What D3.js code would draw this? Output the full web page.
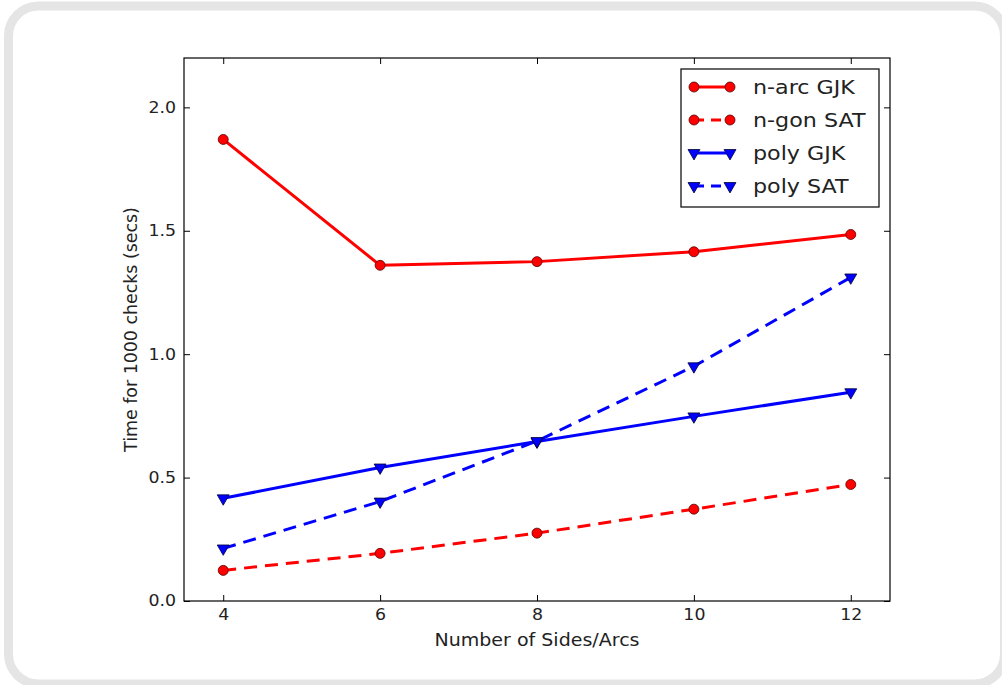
<!DOCTYPE html>
<html>
<head>
<meta charset="utf-8">
<script src="https://cdn.jsdelivr.net/npm/d3@7/dist/d3.min.js"></script>
<style>
  html, body { margin: 0; padding: 0; background: #fff; }
  svg { display: block; }
  text { font-family: "DejaVu Sans", sans-serif; fill: #222; }
  .wide { transform-box: fill-box; transform-origin: center; transform: scaleX(1.12); }
  .wideL { transform-box: fill-box; transform-origin: left center; transform: scaleX(1.14); }
</style>
</head>
<body>
<svg id="chart" width="1002" height="685"></svg>
<script>
const sides = [4, 6, 8, 10, 12];
const narcGJK = [1.87, 1.36, 1.375, 1.415, 1.485];
const ngonSAT = [0.124, 0.193, 0.275, 0.372, 0.472];
const polyGJK = [0.416, 0.541, 0.646, 0.748, 0.846];
const polySAT = [0.213, 0.403, 0.648, 0.951, 1.311];
const xTicks = [4, 6, 8, 10, 12];
const yTicks = [0.0, 0.5, 1.0, 1.5, 2.0];
const seriesNames = ["n-arc GJK", "n-gon SAT", "poly GJK", "poly SAT"];

const series = [
  { name: seriesNames[0], values: narcGJK, color: "#ff0000", dash: null, marker: "circle" },
  { name: seriesNames[1], values: ngonSAT, color: "#ff0000", dash: "13,8", marker: "circle" },
  { name: seriesNames[2], values: polyGJK, color: "#0000ff", dash: null, marker: "tri" },
  { name: seriesNames[3], values: polySAT, color: "#0000ff", dash: "13,8", marker: "tri" }
];

const svg = d3.select("#chart");

// card frame
svg.append("rect")
  .attr("x", 8.5).attr("y", 6).attr("width", 996).attr("height", 678)
  .attr("rx", 30).attr("ry", 30)
  .attr("fill", "#fff").attr("stroke", "#e5e5e5").attr("stroke-width", 9);

const L = 184, R = 890, T = 58, B = 601;
const x = d3.scaleLinear().domain([3.5, 12.5]).range([L, R]);
const y = d3.scaleLinear().domain([0, 2.2]).range([B, T]);

const g = svg.append("g");

const tickLen = 6;
const xAxisB = d3.axisBottom(x).tickValues(xTicks).tickSizeInner(-tickLen).tickSizeOuter(0).tickPadding(8).tickFormat(d3.format("d"));
const xAxisT = d3.axisTop(x).tickValues(xTicks).tickSizeInner(-tickLen).tickSizeOuter(0).tickFormat("");
const yAxisL = d3.axisLeft(y).tickValues(yTicks).tickSizeInner(-tickLen).tickSizeOuter(0).tickPadding(8).tickFormat(d3.format(".1f"));
const yAxisR = d3.axisRight(y).tickValues(yTicks).tickSizeInner(-tickLen).tickSizeOuter(0).tickFormat("");

function styleAxis(sel, anchorCls) {
  sel.select(".domain").remove();
  sel.selectAll(".tick line").attr("stroke", "#000").attr("stroke-width", 1);
  sel.selectAll(".tick text").style("font-family", "DejaVu Sans, sans-serif").style("font-size", "15.5px")
    .attr("fill", "#222").attr("class", anchorCls || "wide");
}
g.append("g").attr("transform", `translate(0,${B})`).call(xAxisB).call(styleAxis, "wide");
g.append("g").attr("transform", `translate(0,${T})`).call(xAxisT).call(styleAxis);
g.append("g").attr("transform", `translate(${L},0)`).call(yAxisL).call(sel => {
  styleAxis(sel, null);
  sel.selectAll(".tick text").attr("class", null)
    .style("transform-box", "fill-box").style("transform-origin", "right center").style("transform", "scaleX(1.12)");
});
g.append("g").attr("transform", `translate(${R},0)`).call(yAxisR).call(styleAxis);

const line = d3.line().x((d, i) => x(sides[i])).y(d => y(d));
svg.append("clipPath").attr("id", "clip").append("rect")
  .attr("x", L).attr("y", T).attr("width", R - L).attr("height", B - T);

const plot = g.append("g").attr("clip-path", "url(#clip)");
const triPath = d3.symbol().type(d3.symbolTriangle).size(62);

function drawMarker(sel, s, cx, cy) {
  if (s.marker === "circle") {
    sel.append("circle").attr("cx", cx).attr("cy", cy).attr("r", 5)
      .attr("fill", s.color).attr("stroke", "#550000").attr("stroke-width", 0.8);
  } else {
    sel.append("path").attr("d", triPath())
      .attr("transform", `translate(${cx},${cy}) rotate(180)`)
      .attr("fill", s.color).attr("stroke", "#000033").attr("stroke-width", 0.8);
  }
}

series.forEach(s => {
  plot.append("path").datum(s.values)
    .attr("d", line)
    .attr("fill", "none")
    .attr("stroke", s.color)
    .attr("stroke-width", 3)
    .attr("stroke-dasharray", s.dash)
    .attr("stroke-linejoin", "round");
});
series.forEach(s => {
  s.values.forEach((v, i) => drawMarker(plot, s, x(sides[i]), y(v)));
});

g.append("rect").attr("x", L).attr("y", T).attr("width", R - L).attr("height", B - T)
  .attr("fill", "none").attr("stroke", "#000").attr("stroke-width", 1.2);

svg.append("text").attr("x", (L + R) / 2).attr("y", 646).attr("text-anchor", "middle")
  .attr("class", "wide").style("font-size", "17px").text("Number of Sides/Arcs");
svg.append("text").attr("transform", `translate(137,${(T + B) / 2}) rotate(-90)`)
  .attr("text-anchor", "middle").style("font-size", "17.4px").text("Time for 1000 checks (secs)");

const lg = svg.append("g");
lg.append("rect").attr("x", 681).attr("y", 69).attr("width", 198).attr("height", 138)
  .attr("fill", "#fff").attr("stroke", "#000").attr("stroke-width", 1.2);
const rowY = [87, 120, 153, 186];
series.forEach((s, i) => {
  const yy = rowY[i];
  lg.append("line").attr("x1", 694).attr("x2", 730).attr("y1", yy).attr("y2", yy)
    .attr("stroke", s.color).attr("stroke-width", 3).attr("stroke-dasharray", s.dash ? "10,7" : null);
  drawMarker(lg, s, 694, yy);
  drawMarker(lg, s, 730, yy);
  lg.append("text").attr("x", 753).attr("y", yy).attr("dy", "0.36em")
    .attr("class", "wideL").style("font-size", "19.5px").text(s.name);
});
</script>
</body>
</html>
